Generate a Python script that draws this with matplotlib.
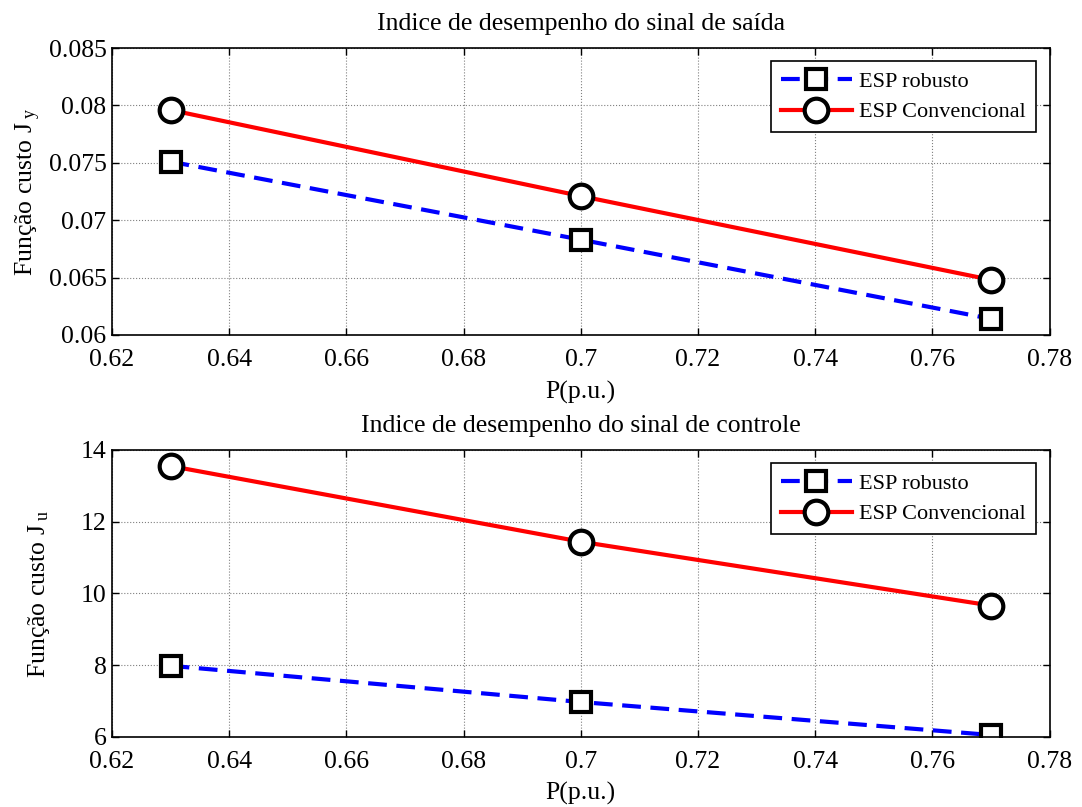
import numpy as np
import matplotlib.pyplot as plt

plt.rcParams['font.family'] = ['Liberation Serif', 'DejaVu Serif']
plt.rcParams['mathtext.fontset'] = 'custom'
plt.rcParams['mathtext.rm'] = 'Liberation Serif'
plt.rcParams['mathtext.it'] = 'Liberation Serif'

p = [0.63, 0.70, 0.77]
jy_robusto = [0.0751, 0.0683, 0.0614]
jy_conv = [0.0796, 0.0721, 0.0648]
ju_robusto = [7.98, 6.97, 6.05]
ju_conv = [13.55, 11.44, 9.66]

titles = ["Indice de desempenho do sinal de saída",
          "Indice de desempenho do sinal de controle"]
ylabels = ["Função custo J$_{\\mathrm{\\ y}}$", "Função custo J$_{\\mathrm{\\ u}}$"]
ylims = [(0.06, 0.085), (6, 14)]
yticks = [np.arange(0.06, 0.0851, 0.005), np.arange(6, 14.1, 2)]
yticklabels = [["0.06", "0.065", "0.07", "0.075", "0.08", "0.085"],
               ["6", "8", "10", "12", "14"]]
xticks = [0.62, 0.64, 0.66, 0.68, 0.70, 0.72, 0.74, 0.76, 0.78]
xticklabels = ["0.62", "0.64", "0.66", "0.68", "0.7", "0.72", "0.74", "0.76", "0.78"]
ylabel_x = [-0.074, -0.064]

fig = plt.figure(figsize=(10.82, 8.07), dpi=100)
ax1 = fig.add_axes([0.1035, 0.585, 0.8665, 0.3555])
ax2 = fig.add_axes([0.1035, 0.087, 0.8665, 0.3555])

for i, (ax, rob, conv) in enumerate([(ax1, jy_robusto, jy_conv), (ax2, ju_robusto, ju_conv)]):
    ax.plot(p, rob, color='blue', lw=3, ls=(0, (4.5, 2.3)), marker='s', ms=14,
            mfc='white', mec='black', mew=3, label='ESP robusto')
    ax.plot(p, conv, color='red', lw=3, marker='o', ms=17,
            mfc='white', mec='black', mew=3, label='ESP Convencional')
    ax.set_xlim(0.62, 0.78)
    ax.set_ylim(*ylims[i])
    ax.set_xticks(xticks)
    ax.set_xticklabels(xticklabels)
    ax.set_yticks(yticks[i])
    ax.set_yticklabels(yticklabels[i])
    ax.tick_params(direction='in', top=True, right=True, labelsize=18.5, length=5, width=1)
    ax.tick_params(axis='x', pad=10)
    ax.tick_params(axis='y', pad=4)
    ax.grid(True, color='gray', ls=':', lw=0.8)
    for s in ax.spines.values():
        s.set_linewidth(1.2)
    ax.set_title(titles[i], fontsize=18.5, pad=13)
    ax.set_xlabel("P(p.u.)", fontsize=18.5, labelpad=7)
    ax.set_ylabel(ylabels[i], fontsize=18.5)
    ax.yaxis.set_label_coords(ylabel_x[i], 0.5)
    leg = ax.legend(loc='upper right', fontsize=16, fancybox=False, edgecolor='black',
                    framealpha=1, borderaxespad=0.6, handlelength=3.2, borderpad=0.45,
                    labelspacing=0.45, handletextpad=0.35)
    leg.get_frame().set_linewidth(1.2)

fig.savefig("out.png", dpi=100)
